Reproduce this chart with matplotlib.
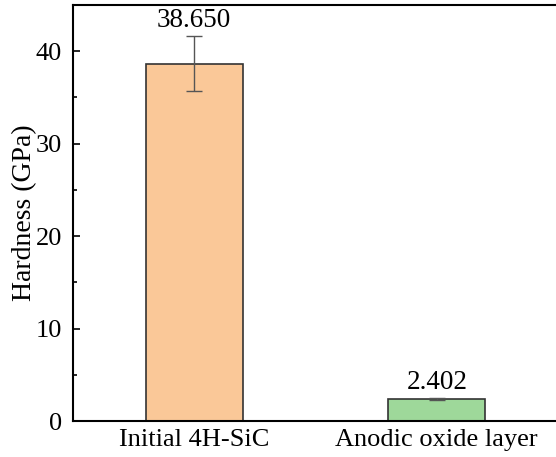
import numpy as np
import matplotlib.pyplot as plt
from matplotlib.ticker import MultipleLocator

# data
categories = ['Initial 4H-SiC', 'Anodic oxide layer']
hardness = [38.650, 2.402]
errors = [3.0, 0.12]
labels = ['38.650', '2.402']
colors = ['#FAC898', '#9ED89A']

plt.rcParams['font.family'] = ['Liberation Serif', 'DejaVu Serif']
plt.rcParams['font.size'] = 19

fig = plt.figure(figsize=(5.56, 4.57), dpi=100)
ax = fig.add_axes([73/556, 36/457, 485/556, 416/457])

x = np.arange(len(categories))
ax.bar(x, hardness, width=0.4, color=colors, edgecolor='#333333', linewidth=1.2,
       yerr=errors, capsize=6, error_kw=dict(ecolor='#555555', elinewidth=1, capthick=1))

for xi, h, e, lab in zip(x, hardness, errors, labels):
    ax.text(xi, h + e + 0.3, lab, ha='center', va='bottom', fontsize=19.5)

ax.set_xlim(-0.5, 1.5)
ax.set_ylim(0, 45)
ax.set_xticks(x)
ax.set_xticklabels(categories)
ax.yaxis.set_major_locator(MultipleLocator(10))
ax.yaxis.set_minor_locator(MultipleLocator(5))
ax.tick_params(axis='y', which='major', direction='in', length=5, width=1.2, labelsize=19, pad=8)
ax.tick_params(axis='y', which='minor', direction='in', length=3, width=1.2)
ax.tick_params(axis='x', length=0, labelsize=19, pad=6)
ax.set_ylabel('Hardness (GPa)', fontsize=20, labelpad=-1)

ax.spines['right'].set_visible(False)
for s in ['left', 'bottom', 'top']:
    ax.spines[s].set_linewidth(1.5)

fig.savefig('out.png', dpi=100)
